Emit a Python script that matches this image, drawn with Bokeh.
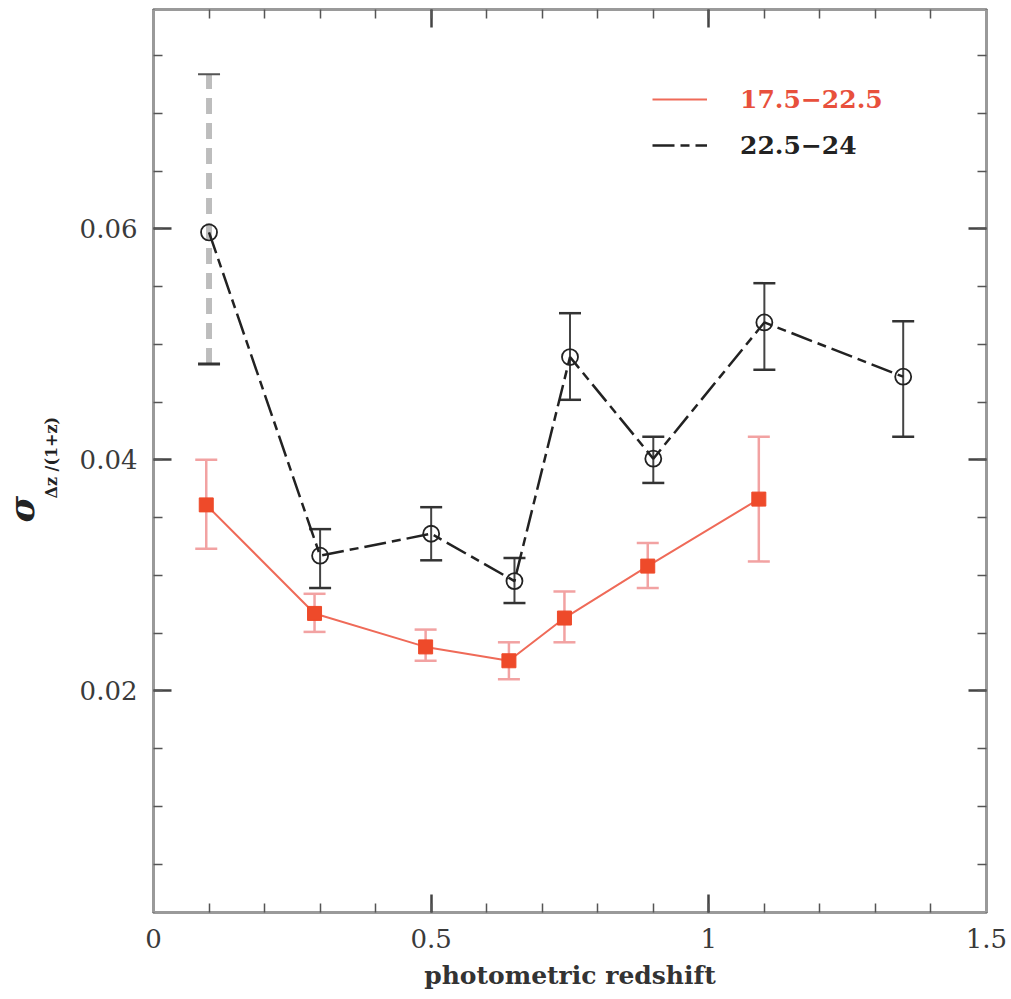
from bokeh.plotting import figure
from bokeh.models import (ColumnDataSource, Whisker, TeeHead, FixedTicker,
                          LinearAxis, Range1d, Legend, LegendItem, Title)
from bokeh.embed import file_html
from bokeh.resources import INLINE

# photometric-redshift scatter sigma_dz/(1+z) in bins of z_phot
# bright sample, 17.5 < mag < 22.5
z_bright = [0.095, 0.29, 0.49, 0.64, 0.74, 0.89, 1.09]
sig_bright = [0.0361, 0.0267, 0.0238, 0.0226, 0.0263, 0.0308, 0.0366]
lo_bright = [0.0323, 0.0251, 0.0226, 0.0210, 0.0242, 0.0289, 0.0312]
hi_bright = [0.0400, 0.0284, 0.0253, 0.0242, 0.0286, 0.0328, 0.0420]

# faint sample, 22.5 < mag < 24
z_faint = [0.10, 0.30, 0.50, 0.65, 0.75, 0.90, 1.10, 1.35]
sig_faint = [0.0597, 0.0317, 0.0336, 0.0295, 0.0489, 0.0401, 0.0519, 0.0472]
lo_faint = [0.0483, 0.0289, 0.0313, 0.0276, 0.0452, 0.0380, 0.0478, 0.0420]
hi_faint = [0.0734, 0.0340, 0.0359, 0.0315, 0.0527, 0.0420, 0.0553, 0.0520]

x_major = [0, 0.5, 1, 1.5]
x_minor = [round(0.1 * k, 2) for k in range(16)]
y_major = [0.02, 0.04, 0.06]
y_minor = [round(0.005 * k, 3) for k in range(17)]

label_bright = "17.5\u221222.5"
label_faint = "22.5\u221224"

SERIF = "DejaVu Serif"
RED = "#ee4a2a"
RED_LINE = "#ef6a58"
RED_BAR = "#f2a2a2"
FRAME = "#9a9a9a"

p = figure(width=1011, height=999, output_backend="svg", toolbar_location=None,
           x_range=Range1d(0, 1.5), y_range=Range1d(0.0008, 0.079),
           min_border_left=153, min_border_right=25, min_border_top=9,
           min_border_bottom=87)
p.xgrid.visible = False
p.ygrid.visible = False
p.outline_line_color = FRAME
p.outline_line_width = 3
p.background_fill_color = "white"
p.border_fill_color = "white"


def style_axis(ax, major, minor, show_labels):
    ax.ticker = FixedTicker(ticks=major, minor_ticks=minor)
    ax.axis_line_color = FRAME
    ax.axis_line_width = 3
    ax.major_tick_in = 18
    ax.major_tick_out = 0
    ax.minor_tick_in = 9
    ax.minor_tick_out = 0
    ax.major_tick_line_color = "#444444"
    ax.minor_tick_line_color = "#555555"
    ax.major_tick_line_width = 2.5
    ax.minor_tick_line_width = 1.5
    if show_labels:
        ax.major_label_text_font = SERIF
        ax.major_label_text_font_size = "26px"
        ax.major_label_text_color = "#3a3a3a"
        ax.major_label_standoff = 16
    else:
        # tick marks only on the mirrored sides
        ax.major_label_text_color = None
        ax.major_label_text_font_size = "1px"
        ax.major_label_standoff = 0


style_axis(p.xaxis[0], x_major, x_minor, True)
style_axis(p.yaxis[0], y_major, y_minor, True)
p.yaxis[0].major_label_overrides = {0.02: "0.02", 0.04: "0.04", 0.06: "0.06"}

p.xaxis[0].axis_label = "photometric redshift"
p.xaxis[0].axis_label_text_font = SERIF
p.xaxis[0].axis_label_text_font_style = "bold"
p.xaxis[0].axis_label_text_font_size = "25px"
p.xaxis[0].axis_label_text_color = "#333333"
p.xaxis[0].axis_label_standoff = 10

top_axis = LinearAxis()
right_axis = LinearAxis()
style_axis(top_axis, x_major, x_minor, False)
style_axis(right_axis, y_major, y_minor, False)
p.add_layout(top_axis, "above")
p.add_layout(right_axis, "right")

# y-axis title sigma_{dz} /(1+z): the subscript part sits next to the axis,
# the sigma one column further out and a little higher on the page
sub_title = Title(text="\u0394z /(1+z)", align="left", offset=414,
                  text_font=SERIF, text_font_size="16px", text_font_style="bold",
                  text_color="#222222", standoff=32)
sigma_title = Title(text="\u03c3", align="left", offset=390,
                    text_font=SERIF, text_font_size="36px",
                    text_font_style="bold italic", text_color="#222222",
                    standoff=-36)
p.add_layout(sub_title, "left")
p.add_layout(sigma_title, "left")

# bright sample: solid line with filled squares
src_b = ColumnDataSource(dict(z=z_bright, s=sig_bright, lo=lo_bright, hi=hi_bright))
p.add_layout(Whisker(source=src_b, base="z", lower="lo", upper="hi",
                     line_color=RED_BAR, line_width=2.5,
                     lower_head=TeeHead(size=22, line_color=RED_BAR, line_width=2.5),
                     upper_head=TeeHead(size=22, line_color=RED_BAR, line_width=2.5)))
r_bright = p.line("z", "s", source=src_b, line_color=RED_LINE, line_width=2)
p.scatter("z", "s", source=src_b, marker="square", size=14,
          fill_color=RED, line_color=RED)

# faint sample: long-dash/short-dash line with open circles
src_f0 = ColumnDataSource(dict(z=z_faint[:1], lo=lo_faint[:1], hi=hi_faint[:1]))
src_f = ColumnDataSource(dict(z=z_faint[1:], lo=lo_faint[1:], hi=hi_faint[1:]))
p.add_layout(Whisker(source=src_f0, base="z", lower="lo", upper="hi",
                     line_color="#bdbdbd", line_width=6, line_dash="16 9",
                     lower_head=TeeHead(size=22, line_color="#333333", line_width=3),
                     upper_head=TeeHead(size=22, line_color="#555555", line_width=2)))
p.add_layout(Whisker(source=src_f, base="z", lower="lo", upper="hi",
                     line_color="#444444", line_width=2,
                     lower_head=TeeHead(size=22, line_color="#333333", line_width=2.5),
                     upper_head=TeeHead(size=22, line_color="#333333", line_width=2.5)))
src_fl = ColumnDataSource(dict(z=z_faint, s=sig_faint))
r_faint = p.line("z", "s", source=src_fl, line_color="#222222", line_width=2.5,
                 line_dash="22 6 9 6")
p.scatter("z", "s", source=src_fl, marker="circle", size=16,
          fill_color=None, line_color="#222222", line_width=1.8)

# legend, one block per sample so each label keeps its own colour
for item_label, rend, colour, y_pos in ((label_bright, r_bright, "#e8503c", 798),
                                        (label_faint, r_faint, "#222222", 752)):
    leg = Legend(items=[LegendItem(label=item_label, renderers=[rend])],
                 location=(499, y_pos), glyph_width=55, glyph_height=30,
                 label_height=30, label_standoff=33, padding=0, margin=0,
                 spacing=0, border_line_color=None, background_fill_alpha=0,
                 label_text_font=SERIF, label_text_font_style="bold",
                 label_text_font_size="25px", label_text_color=colour)
    p.add_layout(leg, "center")

open("out.html", "w").write(file_html(p, INLINE))
